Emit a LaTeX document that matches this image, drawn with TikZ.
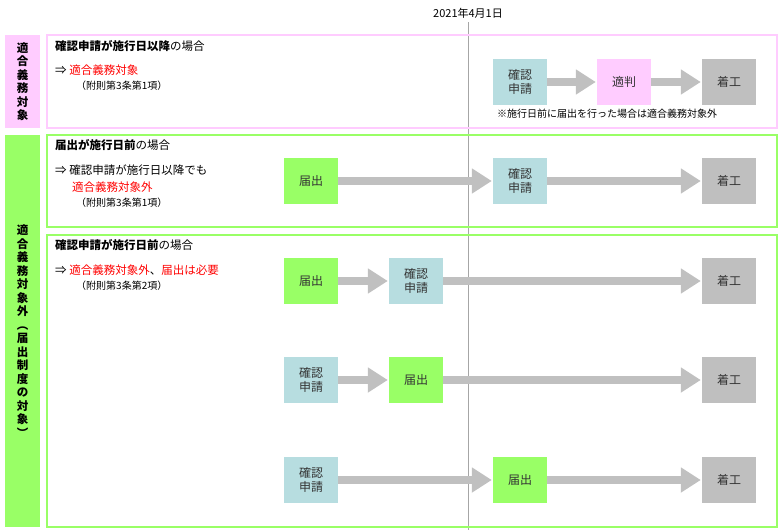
\documentclass[tikz,border=0pt]{standalone}
\usepackage{fontspec}
\setmainfont{Noto Sans CJK JP}
\usetikzlibrary{arrows.meta}
\definecolor{pinkc}{HTML}{FFCCFF}
\definecolor{greenc}{HTML}{99FF66}
\definecolor{bluec}{HTML}{B7DDE0}
\definecolor{grayc}{HTML}{BFBFBF}
\definecolor{arrowc}{HTML}{C0C0C0}
\definecolor{linec}{HTML}{A6A6A6}
\begin{document}
\begin{tikzpicture}
[x=1pt,y=-1pt,
stepbox/.style={minimum width=54pt,minimum height=46pt,inner sep=0pt,align=center,font=\fontsize{12}{14}\selectfont,text=black!80},
shinsei/.style={stepbox,fill=bluec},
todoke/.style={stepbox,fill=greenc},
tekihan/.style={stepbox,fill=pinkc},
chakko/.style={stepbox,fill=grayc},
flow/.style={arrowc,line width=8pt,-{Triangle[length=20pt,width=24pt]},shorten >=1pt},
frame/.style={line width=2pt},
side/.style={font=\fontsize{11.5}{13.5}\selectfont\bfseries,align=center,inner sep=0pt},
head/.style={anchor=west,font=\fontsize{11.5}{14}\selectfont,inner sep=0pt},
note/.style={anchor=west,font=\fontsize{10}{12}\selectfont,inner sep=0pt}]
\useasboundingbox (0,0) rectangle (782,530);
% date line
\draw[linec,line width=1pt] (468,22) -- (468,530);
\node[font=\fontsize{11}{13}\selectfont] (date) at (468,13) {2021年4月1日};
% side labels
\fill[pinkc] (5,35) rectangle (40,128);
\fill[greenc] (5,135) rectangle (40,527);
\node[side] (sideA) at (22.5,81.5) {適\\合\\義\\務\\対\\象};
\node[side] (sideB) at (22.5,331) {適\\合\\義\\務\\対\\象\\外\\︵\\届\\出\\制\\度\\の\\対\\象\\︶};
% frames
\draw[frame,pinkc] (47,35) rectangle (777,128);
\draw[frame,greenc] (47,135) rectangle (777,227);
\draw[frame,greenc] (47,235) rectangle (777,527);
% case 1
\node[head] (h1) at (55,46) {\textbf{確認申請が施行日以降}の場合};
\node[head] (r1) at (55,70) {⇒ \textcolor{red}{適合義務対象}};
\node[note] (n1) at (76,86) {（附則第3条第1項）};
\node[shinsei] (a1) at (520,82) {確認\\申請};
\node[tekihan] (a2) at (624,82) {適判};
\node[chakko] (a3) at (729,82) {着工};
\node[note,anchor=west] (c1) at (497,114) {※施行日前に届出を行った場合は適合義務対象外};
\draw[flow] (a1) -- (a2);
\draw[flow] (a2) -- (a3);
% case 2
\node[head] (h2) at (55,145) {\textbf{届出が施行日前}の場合};
\node[head] (r2) at (55,170) {⇒ 確認申請が施行日以降でも};
\node[head] (r2b) at (72,187) {\textcolor{red}{適合義務対象外}};
\node[note] (n2) at (76,203) {（附則第3条第1項）};
\node[todoke] (b1) at (311,181) {届出};
\node[shinsei] (b2) at (520,181) {確認\\申請};
\node[chakko] (b3) at (729,181) {着工};
\draw[flow] (b1) -- (b2);
\draw[flow] (b2) -- (b3);
% case 3
\node[head] (h3) at (55,245) {\textbf{確認申請が施行日前}の場合};
\node[head] (r3) at (55,270) {⇒ \textcolor{red}{適合義務対象外}、\textcolor{red}{届出は必要}};
\node[note] (n3) at (76,286) {（附則第3条第2項）};
\node[todoke] (d1) at (311,281) {届出};
\node[shinsei] (d2) at (416,281) {確認\\申請};
\node[chakko] (d3) at (729,281) {着工};
\draw[flow] (d1) -- (d2);
\draw[flow] (d2) -- (d3);
\node[shinsei] (e1) at (311,380) {確認\\申請};
\node[todoke] (e2) at (416,380) {届出};
\node[chakko] (e3) at (729,380) {着工};
\draw[flow] (e1) -- (e2);
\draw[flow] (e2) -- (e3);
\node[shinsei] (f1) at (311,480) {確認\\申請};
\node[todoke] (f2) at (520,480) {届出};
\node[chakko] (f3) at (729,480) {着工};
\draw[flow] (f1) -- (f2);
\draw[flow] (f2) -- (f3);
\end{tikzpicture}
\end{document}
